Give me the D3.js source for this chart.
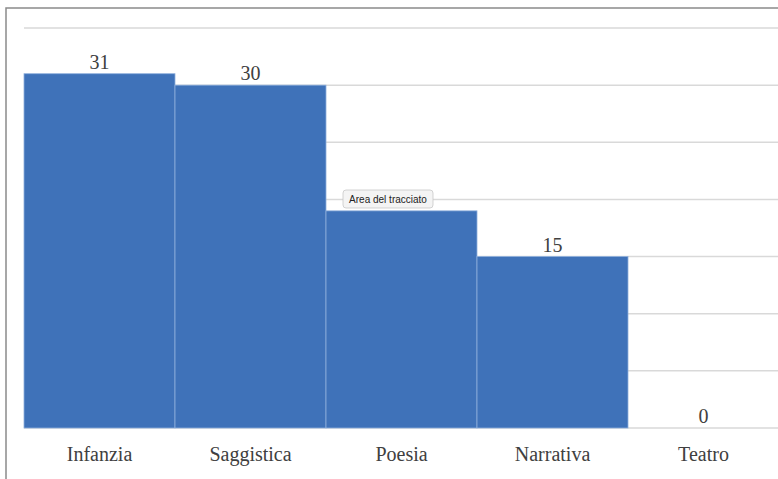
<!DOCTYPE html>
<html>
<head>
<meta charset="utf-8">
<script src="https://cdn.jsdelivr.net/npm/d3@7"></script>
<style>
  body { margin: 0; background: #fff; }
  svg { display: block; }
</style>
</head>
<body>
<svg id="chart"></svg>
<script>
const categories = ["Infanzia", "Saggistica", "Poesia", "Narrativa", "Teatro"];
const values = [31, 30, 19, 15, 0];
const tickValues = [0, 5, 10, 15, 20, 25, 30, 35];
// the label of the third bar is covered by the tooltip in the original
const shownLabels = [true, true, false, true, true];

const W = 778, H = 479;
const margin = { top: 28, right: -1, bottom: 51, left: 24 };
const width = W - margin.left - margin.right;
const height = H - margin.top - margin.bottom;

const data = categories.map((c, i) => ({ cat: c, value: values[i], label: shownLabels[i] }));

const root = d3.select("#chart")
    .attr("width", W)
    .attr("height", H);

// outer frame of the chart area
root.append("rect")
    .attr("x", 6)
    .attr("y", 8)
    .attr("width", W + 10)
    .attr("height", H + 10)
    .attr("fill", "none")
    .attr("stroke", "#8a8a8a")
    .attr("stroke-width", 1.5);

const svg = root.append("g")
    .attr("transform", `translate(${margin.left},${margin.top})`);

const x = d3.scaleBand()
    .domain(categories)
    .range([0, width])
    .padding(0);
const y = d3.scaleLinear()
    .domain([0, 35])
    .range([height, 0]);

// gridlines
svg.append("g")
    .attr("class", "grid")
    .selectAll("line")
    .data(tickValues)
    .enter()
    .append("line")
    .attr("x1", 0)
    .attr("x2", width + 10)
    .attr("y1", d => y(d))
    .attr("y2", d => y(d))
    .attr("stroke", "#d9d9d9")
    .attr("stroke-width", 1.5);

// bars
svg.selectAll(".bar")
    .data(data)
    .enter()
    .append("rect")
    .attr("class", "bar")
    .attr("x", d => x(d.cat))
    .attr("width", x.bandwidth())
    .attr("y", d => y(d.value))
    .attr("height", d => height - y(d.value))
    .attr("fill", "#3f72b9")
    .attr("stroke", "#8fb0dc")
    .attr("stroke-width", 0.8);

// value labels
svg.selectAll(".val")
    .data(data.filter(d => d.label))
    .enter()
    .append("text")
    .attr("class", "val")
    .attr("x", d => x(d.cat) + x.bandwidth() / 2)
    .attr("y", d => y(d.value) - 5)
    .attr("text-anchor", "middle")
    .attr("font-family", "'Liberation Serif', 'Times New Roman', serif")
    .attr("font-size", 20)
    .attr("fill", "#404040")
    .text(d => d.value);

// category axis
const xAxis = d3.axisBottom(x).tickSize(0).tickPadding(19);
svg.append("g")
    .attr("class", "x-axis")
    .attr("transform", `translate(0,${height})`)
    .call(xAxis)
    .call(g => g.select(".domain").remove())
    .selectAll("text")
    .attr("font-family", "'Liberation Serif', 'Times New Roman', serif")
    .attr("font-size", 20)
    .attr("fill", "#404040");

// tooltip overlay
const tip = root.append("g").attr("transform", "translate(343,190)");
tip.append("rect")
    .attr("width", 90)
    .attr("height", 18)
    .attr("rx", 3)
    .attr("fill", "#f4f4f4")
    .attr("stroke", "#c8c8c8")
    .attr("stroke-width", 0.8);
tip.append("text")
    .attr("x", 45)
    .attr("y", 13)
    .attr("text-anchor", "middle")
    .attr("font-family", "'Liberation Sans', Arial, sans-serif")
    .attr("font-size", 10)
    .attr("fill", "#222")
    .text("Area del tracciato");
</script>
</body>
</html>
